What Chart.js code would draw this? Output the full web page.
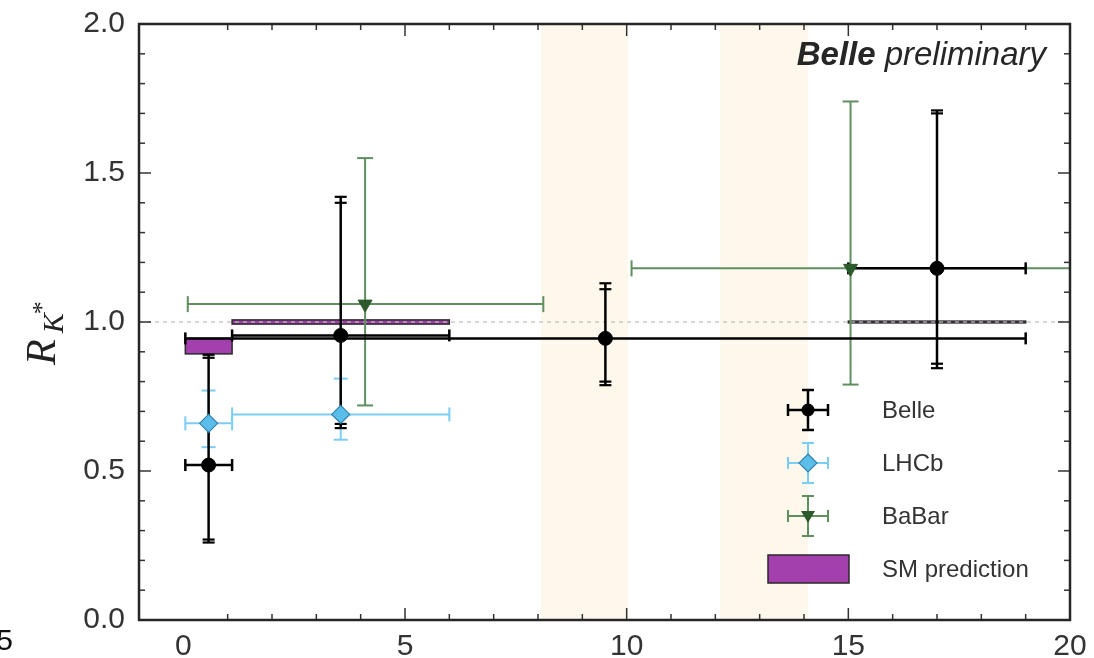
<!DOCTYPE html>
<html>
<head>
<meta charset="utf-8">
<script src="https://cdn.jsdelivr.net/npm/chart.js@4.4.1/dist/chart.umd.min.js"></script>
<style>
  html, body { margin: 0; padding: 0; background: #fff; }
</style>
</head>
<body>
<canvas id="rks" width="1094" height="658"></canvas>
<script>
// Belle R_K* per q^2 bin (stat and total errors)
const belleX = [0.57, 3.55, 9.52, 17.0];
const belleY = [0.52, 0.955, 0.945, 1.18];
const belleXLo = [0.045, 1.1, 0.045, 15.0];
const belleXHi = [1.1, 6.0, 19.0, 19.0];
const belleStatUp = [0.36, 0.445, 0.165, 0.52];
const belleStatDn = [0.25, 0.297, 0.145, 0.32];
const belleTotUp = [0.37, 0.465, 0.185, 0.53];
const belleTotDn = [0.26, 0.311, 0.157, 0.335];

// LHCb
const lhcbX = [0.57, 3.55];
const lhcbY = [0.66, 0.69];
const lhcbXLo = [0.045, 1.1];
const lhcbXHi = [1.1, 6.0];
const lhcbUp = [0.11, 0.12];
const lhcbDn = [0.08, 0.085];

// BaBar
const babarX = [4.1, 15.05];
const babarY = [1.06, 1.18];
const babarXLo = [0.1, 10.11];
const babarXHi = [8.12, 20.5];
const babarUp = [0.49, 0.56];
const babarDn = [0.34, 0.39];

// SM prediction bands
const smXLo = [0.045, 1.1, 15.0];
const smXHi = [1.1, 6.0, 19.0];
const smLo = [0.893, 0.993, 0.997];
const smHi = [0.945, 1.007, 1.003];

// charmonium veto regions
const vetoLo = [8.07, 12.11];
const vetoHi = [10.03, 14.09];

const xTicks = [0, 5, 10, 15, 20];
const yTicks = [0.0, 0.5, 1.0, 1.5, 2.0];

const C_BELLE = '#000000';
const C_LHCB = '#7ccdf3';
const C_BABAR = '#5f8f5f';
const C_SM = '#a43fae';

function pts(xs, ys) { return xs.map((x, i) => ({ x: x, y: ys[i] })); }

function line(ctx, x0, y0, x1, y1) {
  ctx.beginPath(); ctx.moveTo(x0, y0); ctx.lineTo(x1, y1); ctx.stroke();
}

// one error bar: horizontal range, vertical caps list
function errBar(ctx, sx, sy, x, y, xlo, xhi, yCaps, opt) {
  const px = sx.getPixelForValue(x), py = sy.getPixelForValue(y);
  const pl = sx.getPixelForValue(xlo), pr = sx.getPixelForValue(xhi);
  ctx.strokeStyle = opt.color;
  ctx.lineWidth = opt.lw;
  line(ctx, pl, py, pr, py);
  line(ctx, pl, py - opt.cap, pl, py + opt.cap);
  line(ctx, pr, py - opt.cap, pr, py + opt.cap);
  let top = py, bot = py;
  yCaps.forEach(v => {
    const p = sy.getPixelForValue(v);
    top = Math.min(top, p); bot = Math.max(bot, p);
  });
  line(ctx, px, top, px, bot);
  ctx.lineWidth = opt.capLw;
  yCaps.forEach(v => {
    const p = sy.getPixelForValue(v);
    line(ctx, px - opt.cap, p, px + opt.cap, p);
  });
}

const layers = {
  id: 'layers',
  beforeDatasetsDraw(chart) {
    const ctx = chart.ctx, a = chart.chartArea;
    const sx = chart.scales.x, sy = chart.scales.y;
    ctx.save();
    ctx.beginPath(); ctx.rect(a.left, a.top, a.right - a.left, a.bottom - a.top); ctx.clip();

    ctx.fillStyle = 'rgba(250,232,200,0.35)';
    vetoLo.forEach((lo, i) => {
      const l = sx.getPixelForValue(lo), r = sx.getPixelForValue(vetoHi[i]);
      ctx.fillRect(l, a.top, r - l, a.bottom - a.top);
    });

    smXLo.forEach((lo, i) => {
      const l = sx.getPixelForValue(lo), r = sx.getPixelForValue(smXHi[i]);
      const t = sy.getPixelForValue(smHi[i]), b = sy.getPixelForValue(smLo[i]);
      ctx.fillStyle = C_SM;
      ctx.fillRect(l, t, r - l, b - t);
      ctx.strokeStyle = '#2a2a2a';
      ctx.lineWidth = 1.5;
      ctx.strokeRect(l, t, r - l, b - t);
    });

    ctx.strokeStyle = '#bdbdbd';
    ctx.lineWidth = 1.2;
    ctx.setLineDash([4, 4]);
    const y1 = sy.getPixelForValue(1.0);
    line(ctx, a.left, y1, a.right, y1);
    ctx.setLineDash([]);

    babarX.forEach((x, i) => {
      errBar(ctx, sx, sy, x, babarY[i], babarXLo[i], babarXHi[i],
        [babarY[i] + babarUp[i], babarY[i] - babarDn[i]],
        { color: C_BABAR, lw: 2, capLw: 2, cap: 8 });
    });
    lhcbX.forEach((x, i) => {
      errBar(ctx, sx, sy, x, lhcbY[i], lhcbXLo[i], lhcbXHi[i],
        [lhcbY[i] + lhcbUp[i], lhcbY[i] - lhcbDn[i]],
        { color: C_LHCB, lw: 2, capLw: 2, cap: 7 });
    });
    belleX.forEach((x, i) => {
      const y = belleY[i];
      errBar(ctx, sx, sy, x, y, belleXLo[i], belleXHi[i],
        [y + belleStatUp[i], y + belleTotUp[i], y - belleStatDn[i], y - belleTotDn[i]],
        { color: C_BELLE, lw: 2.5, capLw: 2.2, cap: 6 });
    });
    ctx.restore();
  },
  afterDraw(chart) {
    const ctx = chart.ctx, a = chart.chartArea;
    const sx = chart.scales.x, sy = chart.scales.y;
    ctx.save();

    // inward ticks on all four sides
    ctx.strokeStyle = '#333';
    ctx.lineWidth = 1.5;
    for (let v = 1; v < 20; v++) {
      const p = sx.getPixelForValue(v), len = v % 5 === 0 ? 12 : 6;
      line(ctx, p, a.bottom, p, a.bottom - len);
      line(ctx, p, a.top, p, a.top + len);
    }
    for (let k = 1; k < 20; k++) {
      const p = sy.getPixelForValue(k / 10), len = k % 5 === 0 ? 12 : 6;
      line(ctx, a.left, p, a.left + len, p);
      line(ctx, a.right, p, a.right - len, p);
    }

    // frame
    ctx.strokeStyle = '#262626';
    ctx.lineWidth = 2.5;
    ctx.strokeRect(a.left, a.top, a.right - a.left, a.bottom - a.top);

    // experiment label
    ctx.fillStyle = '#262626';
    ctx.textBaseline = 'alphabetic';
    ctx.font = 'italic 33px "Liberation Sans"';
    const w2 = ctx.measureText('preliminary').width;
    ctx.textAlign = 'right';
    ctx.fillText('preliminary', 1046, 65);
    ctx.font = 'italic bold 33px "Liberation Sans"';
    ctx.fillText('Belle', 1046 - w2 - 9, 65);

    // legend
    const lx = 808, rows = [410, 463, 516, 569];
    ctx.textAlign = 'left';
    ctx.textBaseline = 'middle';
    const legOpt = [
      { color: C_BELLE, lw: 2.5, capLw: 2.5 },
      { color: C_LHCB, lw: 2, capLw: 2 },
      { color: C_BABAR, lw: 2, capLw: 2 }
    ];
    legOpt.forEach((o, i) => {
      const y = rows[i];
      ctx.strokeStyle = o.color; ctx.lineWidth = o.lw;
      line(ctx, lx - 20, y, lx + 20, y);
      line(ctx, lx, y - 20, lx, y + 20);
      ctx.lineWidth = o.capLw;
      line(ctx, lx - 20, y - 6, lx - 20, y + 6);
      line(ctx, lx + 20, y - 6, lx + 20, y + 6);
      line(ctx, lx - 6, y - 20, lx + 6, y - 20);
      line(ctx, lx - 6, y + 20, lx + 6, y + 20);
    });
    ctx.fillStyle = '#000';
    ctx.beginPath(); ctx.arc(lx, rows[0], 6.5, 0, Math.PI * 2); ctx.fill();
    ctx.fillStyle = '#5bbdea'; ctx.strokeStyle = '#3184ad'; ctx.lineWidth = 1.2;
    ctx.beginPath();
    ctx.moveTo(lx, rows[1] - 9); ctx.lineTo(lx + 9, rows[1]);
    ctx.lineTo(lx, rows[1] + 9); ctx.lineTo(lx - 9, rows[1]); ctx.closePath();
    ctx.fill(); ctx.stroke();
    ctx.fillStyle = '#2c5a2c';
    ctx.beginPath();
    ctx.moveTo(lx - 7, rows[2] - 5); ctx.lineTo(lx + 7, rows[2] - 5);
    ctx.lineTo(lx, rows[2] + 7); ctx.closePath(); ctx.fill();
    ctx.fillStyle = C_SM; ctx.strokeStyle = '#2a2a2a'; ctx.lineWidth = 1.5;
    ctx.fillRect(768, rows[3] - 14, 81, 28);
    ctx.strokeRect(768, rows[3] - 14, 81, 28);

    ctx.fillStyle = '#333';
    ctx.font = '24px "Liberation Sans"';
    ['Belle', 'LHCb', 'BaBar', 'SM prediction'].forEach((t, i) => ctx.fillText(t, 882, rows[i] + 1));

    // y-axis title R_{K*}
    ctx.save();
    ctx.translate(55, 365);
    ctx.rotate(-Math.PI / 2);
    ctx.fillStyle = '#222';
    ctx.textAlign = 'left';
    ctx.textBaseline = 'alphabetic';
    ctx.font = 'italic 42px "Liberation Serif"';
    ctx.fillText('R', 0, 0);
    const rw = ctx.measureText('R').width;
    ctx.font = 'italic 30px "Liberation Serif"';
    ctx.fillText('K', rw + 6, 8);
    const kw = ctx.measureText('K').width;
    ctx.font = '26px "Liberation Serif"';
    ctx.fillText('*', rw + kw + 5, -5);
    ctx.restore();

    // edge of neighbouring panel label
    ctx.fillStyle = '#111';
    ctx.font = '30px "Liberation Sans"';
    ctx.textAlign = 'right';
    ctx.fillText('5', 13, 642);

    ctx.restore();
  }
};

new Chart(document.getElementById('rks'), {
  type: 'scatter',
  data: {
    datasets: [
      {
        label: 'Belle',
        data: pts(belleX, belleY),
        pointStyle: 'circle',
        pointRadius: 7,
        backgroundColor: C_BELLE,
        borderColor: C_BELLE,
        borderWidth: 1
      },
      {
        label: 'LHCb',
        data: pts(lhcbX, lhcbY),
        pointStyle: 'rectRot',
        pointRadius: 9,
        backgroundColor: '#5bbdea',
        borderColor: '#3184ad',
        borderWidth: 1.2
      },
      {
        label: 'BaBar',
        data: pts(babarX, babarY),
        pointStyle: 'triangle',
        rotation: 180,
        pointRadius: 8,
        backgroundColor: '#2c5a2c',
        borderColor: '#2c5a2c',
        borderWidth: 1
      }
    ]
  },
  options: {
    responsive: false,
    animation: false,
    devicePixelRatio: 1,
    layout: { padding: { top: 24, right: 24, left: 0, bottom: 0 } },
    plugins: { legend: { display: false }, tooltip: { enabled: false } },
    scales: {
      x: {
        type: 'linear',
        min: -1,
        max: 20,
        grid: { display: false, drawTicks: false },
        border: { display: false },
        afterBuildTicks: s => { s.ticks = xTicks.map(v => ({ value: v })); },
        afterFit: s => { s.height = 38; s.paddingLeft = 0; s.paddingRight = 0; },
        ticks: {
          padding: 9,
          maxRotation: 0,
          color: '#333',
          font: { family: 'Liberation Sans', size: 30 },
          callback: v => String(v)
        }
      },
      y: {
        type: 'linear',
        min: 0,
        max: 2,
        grid: { display: false, drawTicks: false },
        border: { display: false },
        afterBuildTicks: s => { s.ticks = yTicks.map(v => ({ value: v })); },
        afterFit: s => { s.width = 139; s.paddingTop = 0; s.paddingBottom = 0; },
        ticks: {
          padding: 14,
          color: '#333',
          font: { family: 'Liberation Sans', size: 30 },
          callback: v => Number(v).toFixed(1)
        }
      }
    }
  },
  plugins: [layers]
});
</script>
</body>
</html>
